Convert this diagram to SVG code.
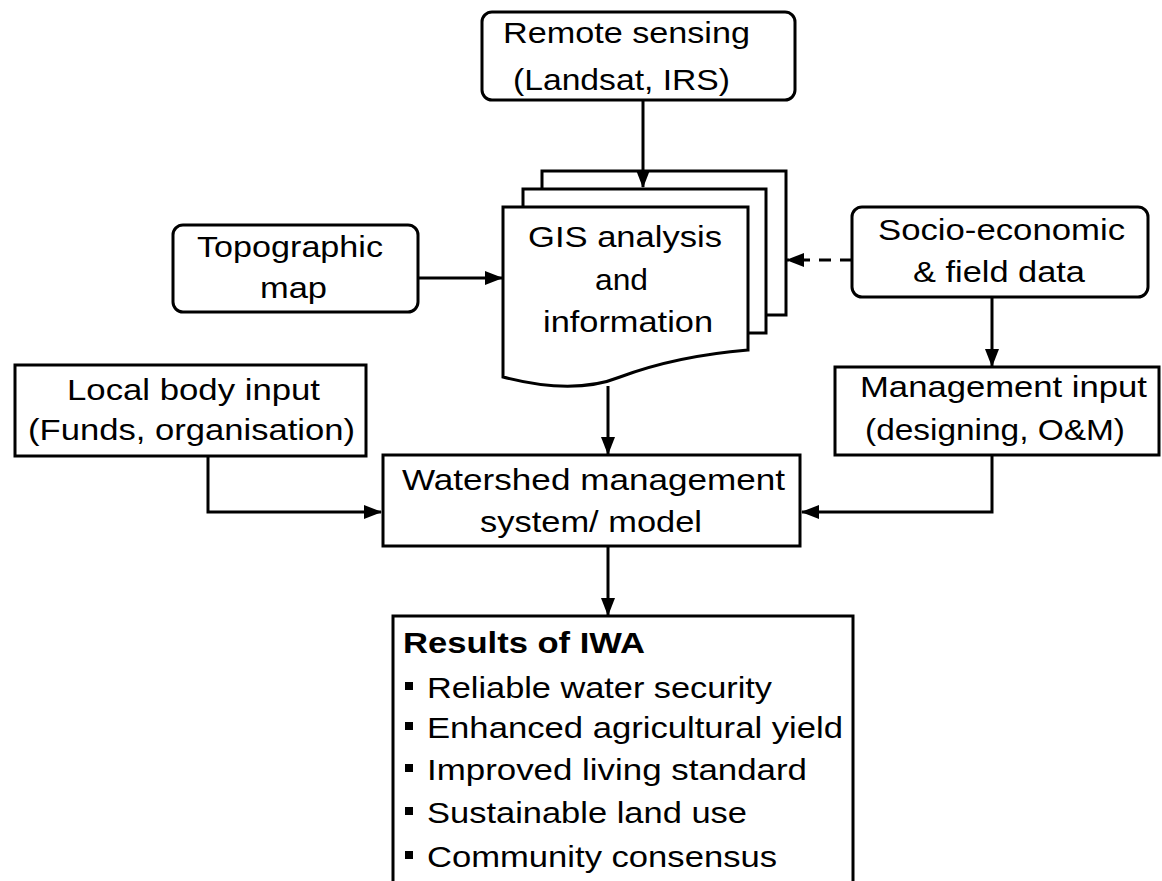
<svg xmlns="http://www.w3.org/2000/svg" width="1162" height="881" viewBox="0 0 1162 881">
<defs>
<style>
.box{fill:#fff;stroke:#000;stroke-width:3}
.ln{fill:none;stroke:#000;stroke-width:3}
.dash{stroke-dasharray:12 9}
text{font-family:"Liberation Sans",Arial,sans-serif;font-size:30px;fill:#000}
.b{font-weight:bold}
</style>
<marker id="ah" markerUnits="userSpaceOnUse" markerWidth="18" markerHeight="14" refX="17" refY="7" orient="auto">
<path d="M0,0 L18,7 L0,14 z" fill="#000"/>
</marker>
</defs>
<rect width="1162" height="881" fill="#fff"/>

<g id="remote-sensing">
<rect class="box" x="482" y="12" width="313" height="88" rx="10"/>
<text x="503" y="43" textLength="247" lengthAdjust="spacingAndGlyphs">Remote sensing</text>
<text x="513" y="90" textLength="217" lengthAdjust="spacingAndGlyphs">(Landsat, IRS)</text>
</g>

<g id="gis">
<rect class="box" x="542" y="171" width="244" height="144"/>
<rect class="box" x="523" y="189" width="243" height="144"/>
<path class="box" d="M503,207 L748,207 L748,350 C700,354 660,362 620,377 C595,387 560,392 503,377 Z"/>
<text x="528" y="247" textLength="194" lengthAdjust="spacingAndGlyphs">GIS analysis</text>
<text x="595" y="290" textLength="53" lengthAdjust="spacingAndGlyphs">and</text>
<text x="543" y="332" textLength="170" lengthAdjust="spacingAndGlyphs">information</text>
</g>

<g id="topographic">
<rect class="box" x="173" y="225" width="245" height="87" rx="10"/>
<text x="197" y="257" textLength="186" lengthAdjust="spacingAndGlyphs">Topographic</text>
<text x="260" y="298" textLength="67" lengthAdjust="spacingAndGlyphs">map</text>
</g>

<g id="socio">
<rect class="box" x="852" y="207" width="296" height="90" rx="10"/>
<text x="878" y="240" textLength="247" lengthAdjust="spacingAndGlyphs">Socio-economic</text>
<text x="913" y="282" textLength="172" lengthAdjust="spacingAndGlyphs">&amp; field data</text>
</g>

<g id="local-body">
<rect class="box" x="15" y="365" width="351" height="91"/>
<text x="67" y="400" textLength="253" lengthAdjust="spacingAndGlyphs">Local body input</text>
<text x="28" y="440" textLength="327" lengthAdjust="spacingAndGlyphs">(Funds, organisation)</text>
</g>

<g id="management">
<rect class="box" x="835" y="367" width="324" height="88"/>
<text x="860" y="397" textLength="287" lengthAdjust="spacingAndGlyphs">Management input</text>
<text x="865" y="440" textLength="260" lengthAdjust="spacingAndGlyphs">(designing, O&amp;M)</text>
</g>

<g id="watershed">
<rect class="box" x="383" y="455" width="417" height="91"/>
<text x="402" y="490" textLength="383" lengthAdjust="spacingAndGlyphs">Watershed management</text>
<text x="480" y="532" textLength="222" lengthAdjust="spacingAndGlyphs">system/ model</text>
</g>

<g id="results">
<rect class="box" x="393" y="616" width="460" height="280"/>
<text class="b" x="403" y="653" textLength="242" lengthAdjust="spacingAndGlyphs">Results of IWA</text>
<rect x="405" y="682" width="8" height="8" fill="#000"/>
<text x="427" y="698" textLength="345" lengthAdjust="spacingAndGlyphs">Reliable water security</text>
<rect x="405" y="722" width="8" height="8" fill="#000"/>
<text x="427" y="738" textLength="416" lengthAdjust="spacingAndGlyphs">Enhanced agricultural yield</text>
<rect x="405" y="764" width="8" height="8" fill="#000"/>
<text x="427" y="780" textLength="380" lengthAdjust="spacingAndGlyphs">Improved living standard</text>
<rect x="405" y="807" width="8" height="8" fill="#000"/>
<text x="427" y="823" textLength="320" lengthAdjust="spacingAndGlyphs">Sustainable land use</text>
<rect x="405" y="851" width="8" height="8" fill="#000"/>
<text x="427" y="867" textLength="350" lengthAdjust="spacingAndGlyphs">Community consensus</text>
</g>

<g id="connectors">
<line class="ln" x1="643" y1="100" x2="643" y2="187" marker-end="url(#ah)"/>
<line class="ln" x1="418" y1="278" x2="502" y2="278" marker-end="url(#ah)"/>
<line class="ln dash" x1="852" y1="260" x2="787" y2="260" marker-end="url(#ah)"/>
<line class="ln" x1="992" y1="297" x2="992" y2="366" marker-end="url(#ah)"/>
<line class="ln" x1="608" y1="386" x2="608" y2="454" marker-end="url(#ah)"/>
<polyline class="ln" points="208,456 208,512 381,512" marker-end="url(#ah)"/>
<polyline class="ln" points="992,455 992,512 802,512" marker-end="url(#ah)"/>
<line class="ln" x1="608" y1="546" x2="608" y2="615" marker-end="url(#ah)"/>
</g>
</svg>
